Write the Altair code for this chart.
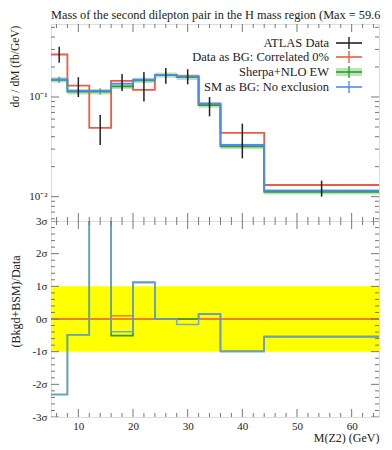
import altair as alt
import pandas as pd

# ---------------- data ----------------
edges = [5, 8, 12, 16, 20, 24, 28, 32, 36, 44, 65]
data_val = [0.267, 0.126, 0.040, 0.145, 0.147, 0.167, 0.158, 0.083, 0.033, 0.0115]
data_lo = [0.220, 0.100, 0.033, 0.115, 0.090, 0.136, 0.134, 0.064, 0.0242, 0.0100]
data_hi = [0.320, 0.158, 0.066, 0.170, 0.178, 0.195, 0.190, 0.100, 0.054, 0.0145]
red_val = [0.267, 0.130, 0.049, 0.145, 0.118, 0.167, 0.162, 0.086, 0.0437, 0.0131]
green_val = [0.149, 0.113, 0.113, 0.128, 0.147, 0.166, 0.158, 0.083, 0.032, 0.0112]
green_lo = [0.140, 0.106, 0.106, 0.120, 0.138, 0.156, 0.148, 0.078, 0.030, 0.0105]
green_hi = [0.158, 0.120, 0.120, 0.136, 0.156, 0.176, 0.168, 0.088, 0.034, 0.0119]
blue_val = [0.149, 0.115, 0.115, 0.136, 0.149, 0.167, 0.160, 0.086, 0.033, 0.0115]

red_ratio = [0.0, 0.0, 0.0, 0.1, 0.0, 0.0, 0.0, 0.0, 0.0, 0.0]
green_ratio = [-2.31, -0.48, 3.5, -0.51, 1.12, 0.0, 0.0, 0.15, -0.99, -0.54]
blue_ratio = [-2.31, -0.48, 3.5, -0.39, 1.12, 0.0, -0.17, 0.15, -0.99, -0.54]
band = [-1, 1]

legend_labels = ["ATLAS Data", "Data as BG: Correlated 0%", "Sherpa+NLO EW", "SM as BG: No exclusion"]

x_major = [10, 20, 30, 40, 50, 60]
x_minor = [6, 8, 12, 14, 16, 18, 22, 24, 26, 28, 32, 34, 36, 38, 42, 44, 46, 48, 52, 54, 56, 58, 62, 64]
ylog_major = [0.01, 0.1]
ylog_minor = [0.006, 0.007, 0.008, 0.009, 0.02, 0.03, 0.04, 0.05, 0.06, 0.07, 0.08, 0.09, 0.2, 0.3, 0.4, 0.5]
yr_major = [-3, -2, -1, 0, 1, 2, 3]
yr_minor = [-2.8, -2.6, -2.4, -2.2, -1.8, -1.6, -1.4, -1.2, -0.8, -0.6, -0.4, -0.2,
            0.2, 0.4, 0.6, 0.8, 1.2, 1.4, 1.6, 1.8, 2.2, 2.4, 2.6, 2.8]

# ---------------- style ----------------
FONT = "Liberation Serif"
W = 328
H1 = 197
H2 = 196
RED = "#EE5A45"
GREEN = "#2E9B2E"
GREEN_BAND = "#A9DCA9"
BLUE = "#4C8BF0"
BLUE_R = "#6E9CEC"
BLACK = "#222222"
TICK = "#777777"

xs = alt.Scale(domain=[5, 65], nice=False, zero=False)
ys_top = alt.Scale(type="log", domain=[0.0057, 0.54], nice=False)
ys_rat = alt.Scale(domain=[-3, 3], nice=False, zero=False)

ax_x_rat = alt.Axis(values=x_major, ticks=False, domain=False, grid=False, title="M(Z2) (GeV)",
                    labelFont=FONT, labelFontSize=11, labelColor=BLACK, labelPadding=3,
                    titleFont=FONT, titleFontSize=12, titleFontWeight="normal", titleColor=BLACK,
                    titleAnchor="end", titlePadding=1)
ax_y_top = alt.Axis(values=ylog_major, ticks=False, domain=False, grid=False,
                    labelExpr="datum.value > 0.05 ? '10⁻¹' : '10⁻²'",
                    labelFont=FONT, labelFontSize=11, labelColor=BLACK, labelPadding=4,
                    title="dσ / dM (fb/GeV)", titleFont=FONT, titleFontSize=11.5,
                    titleFontWeight="normal", titleColor=BLACK, titleAngle=270,
                    titleX=-36, titleY=42, titleAlign="center", titleBaseline="middle")
ax_y_rat = alt.Axis(values=yr_major, ticks=False, domain=False, grid=False,
                    labelExpr="datum.value + 'σ'",
                    labelFont=FONT, labelFontSize=11, labelColor=BLACK, labelPadding=4,
                    title="(Bkgd+BSM)/Data", titleFont=FONT, titleFontSize=12,
                    titleFontWeight="normal", titleColor=BLACK, titleAngle=270,
                    titleX=-36, titleY=80, titleAlign="center", titleBaseline="middle")


def step_df(vals):
    return pd.DataFrame({"x": edges, "y": list(vals) + [vals[-1]]})


centers = [(a + b) / 2 for a, b in zip(edges[:-1], edges[1:])]


def X(field, top=True):
    if top:
        return alt.X(field, type="quantitative", scale=xs, axis=None)
    return alt.X(field, type="quantitative", scale=xs, axis=ax_x_rat)


def Y(field, top=True):
    return alt.Y(field, type="quantitative", scale=ys_top if top else ys_rat,
                 axis=ax_y_top if top else ax_y_rat)


def step_line(vals, color, top=True, width=1.8):
    return alt.Chart(step_df(vals)).mark_line(
        interpolate="step-after", color=color, strokeWidth=width, clip=True
    ).encode(x=X("x", top), y=Y("y", top))


def tick_layers(h, ymaj, ymin, top):
    layers = []
    for pos, ln in ((x_major, 8), (x_minor, 4)):
        df = pd.DataFrame({"x": pos})
        layers.append(alt.Chart(df).mark_rule(color=TICK, strokeWidth=1).encode(
            x=X("x", top), y=alt.value(h), y2=alt.value(h - ln)))
        layers.append(alt.Chart(df).mark_rule(color=TICK, strokeWidth=1).encode(
            x=X("x", top), y=alt.value(0), y2=alt.value(ln)))
    for pos, ln in ((ymaj, 8), (ymin, 4)):
        df = pd.DataFrame({"y": pos})
        layers.append(alt.Chart(df).mark_rule(color=TICK, strokeWidth=1, clip=True).encode(
            y=Y("y", top), x=alt.value(0), x2=alt.value(ln)))
        layers.append(alt.Chart(df).mark_rule(color=TICK, strokeWidth=1, clip=True).encode(
            y=Y("y", top), x=alt.value(W), x2=alt.value(W - ln)))
    return layers


# ---------------- top panel ----------------
band_df = pd.DataFrame({"x": edges, "lo": green_lo + [green_lo[-1]], "hi": green_hi + [green_hi[-1]]})
green_band = alt.Chart(band_df).mark_area(
    interpolate="step-after", color=GREEN_BAND, opacity=0.8, clip=True
).encode(x=X("x"), y=Y("lo"), y2=alt.Y2("hi"))

pts_df = pd.DataFrame({"c": centers, "v": data_val, "lo": data_lo, "hi": data_hi,
                       "g": green_val, "b": blue_val})
data_err = alt.Chart(pts_df).mark_rule(color=BLACK, strokeWidth=1.5, clip=True).encode(
    x=X("c"), y=Y("lo"), y2=alt.Y2("hi"))
green_tk = alt.Chart(pts_df).mark_tick(orient="vertical", size=6, thickness=1.2, color=GREEN, clip=True).encode(
    x=X("c"), y=Y("g"))
blue_tk = alt.Chart(pts_df).mark_tick(orient="vertical", size=6, thickness=1.2, color=BLUE, clip=True).encode(
    x=X("c"), y=Y("b"))

# legend (drawn inside the top panel)
leg_layers = []
leg_colors = [BLACK, RED, GREEN, BLUE]
leg_y = [19, 33, 48, 63]
one = pd.DataFrame({"k": [0]})
for lab, col, ry in zip(legend_labels, leg_colors, leg_y):
    ldf = pd.DataFrame({"label": [lab]})
    leg_layers.append(alt.Chart(ldf).mark_text(
        align="right", baseline="middle", font=FONT, fontSize=12.5, color=BLACK
    ).encode(text="label:N", x=alt.value(278), y=alt.value(ry)))
    if col == GREEN:
        leg_layers.append(alt.Chart(one).mark_rect(color=GREEN_BAND, opacity=0.8).encode(
            x=alt.value(285), x2=alt.value(311), y=alt.value(ry - 4), y2=alt.value(ry + 4)))
    leg_layers.append(alt.Chart(one).mark_rule(color=col, strokeWidth=1.6).encode(
        x=alt.value(285), x2=alt.value(311), y=alt.value(ry)))
    leg_layers.append(alt.Chart(one).mark_rule(color=col, strokeWidth=1.4).encode(
        x=alt.value(298), y=alt.value(ry - 6), y2=alt.value(ry + 6)))

top = alt.layer(
    green_band,
    step_line(red_val, RED),
    step_line(green_val, GREEN),
    step_line(blue_val, BLUE),
    green_tk, blue_tk, data_err,
    *tick_layers(H1, ylog_major, ylog_minor, True),
    *leg_layers,
).properties(
    width=W, height=H1,
    title=alt.TitleParams(
        "Mass of the second dilepton pair in the H mass region (Max = 59.6",
        anchor="start", frame="group", font=FONT, fontSize=12.3, fontWeight="normal",
        color=BLACK, offset=2),
)

# ---------------- ratio panel ----------------
band_rect = alt.Chart(pd.DataFrame({"lo": [band[0]], "hi": [band[1]]})).mark_rect(color="#FFFF00").encode(
    x=alt.value(0), x2=alt.value(W), y=Y("lo", False), y2=alt.Y2("hi"))
zero_df = pd.DataFrame({"x": [edges[0]], "x2": [edges[-1]], "y": [0]})
zero_line = alt.Chart(zero_df).mark_rule(color=RED, strokeWidth=1.5).encode(
    x=X("x", False), x2=alt.X2("x2"), y=Y("y", False))

ratio = alt.layer(
    band_rect,
    zero_line,
    step_line(red_ratio, "#F08030", False, 1.6),
    step_line(green_ratio, GREEN, False, 1.6),
    alt.Chart(step_df(blue_ratio)).mark_line(
        interpolate="step-after", color=BLUE_R, strokeWidth=1.6, clip=True, opacity=0.9
    ).encode(x=X("x", False), y=Y("y", False)),
    *tick_layers(H2, yr_major, yr_minor, False),
).properties(width=W, height=H2)

chart = alt.vconcat(top, ratio, spacing=0, bounds="flush").properties(
    padding={"left": 0, "top": 0, "right": 0, "bottom": 0}
).configure_view(stroke="#888888", strokeWidth=1).configure(background="white")

chart.save("out.html", embed_options={"renderer": "svg", "actions": False})
